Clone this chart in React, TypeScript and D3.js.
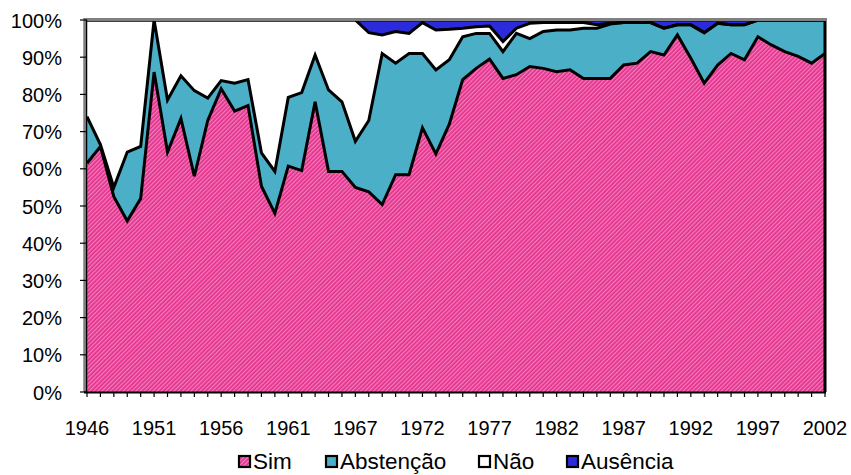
import { useEffect, useRef } from 'react';
import * as d3 from 'd3';

// years with a vote (no 1964 session)
const years = [
  1946, 1947, 1948, 1949, 1950, 1951, 1952, 1953, 1954, 1955, 1956, 1957, 1958, 1959,
  1960, 1961, 1962, 1963, 1965, 1966, 1967, 1968, 1969, 1970, 1971, 1972, 1973, 1974,
  1975, 1976, 1977, 1978, 1979, 1980, 1981, 1982, 1983, 1984, 1985, 1986, 1987, 1988,
  1989, 1990, 1991, 1992, 1993, 1994, 1995, 1996, 1997, 1998, 1999, 2000, 2001, 2002,
];

const sim = [
  61.5, 66, 52.5, 46, 52, 86, 64.5, 73.5, 58, 73, 81.5, 75.5, 77, 55.3,
  48, 60.7, 59.5, 78, 59.3, 59.3, 55, 53.8, 50.4, 58.4, 58.4, 71, 64, 72,
  84, 87, 89.5, 84.3, 85.3, 87.5, 87, 86.1, 86.6, 84.3, 84.3, 84.3, 87.9, 88.4,
  91.5, 90.6, 96, 89.7, 83, 87.9, 91, 89.3, 95.5, 93.3, 91.5, 90.2, 88.4, 91,
];
const abstencao = [
  12.5, 0.5, 2.5, 18.5, 14, 14, 14, 11.5, 23, 6, 2.2, 7.5, 7, 9,
  11.3, 18.5, 21, 12.6, 21.9, 18.7, 12.4, 19.2, 40.6, 30, 32.6, 20, 22.6, 17.3,
  11.5, 9.4, 6.9, 7.2, 11.1, 7.5, 9.9, 11.2, 10.7, 13.5, 13.5, 14.6, 11.4, 10.9,
  7.8, 7.2, 2.7, 9, 13.6, 11.2, 7.7, 9.4, 4.5, 6.7, 8.5, 9.8, 11.6, 9,
];
const nao = [
  26, 33.5, 45, 35.5, 34, 0, 21.5, 15, 19, 21, 16.3, 17, 16, 35.7,
  40.7, 20.8, 19.5, 9.4, 18.8, 22, 32.6, 23.6, 5, 8.5, 5.4, 8.3, 10.7, 8.2,
  2.3, 1.8, 2, 2.7, 1.4, 4.1, 2.4, 2, 2, 1.5, 0.9, 0.2, 0, 0.7,
  0, 0, 0, 0, 0, 0, 0, 0, 0, 0, 0, 0, 0, 0,
];
const ausencia = [
  0, 0, 0, 0, 0, 0, 0, 0, 0, 0, 0, 0, 0, 0,
  0, 0, 0, 0, 0, 0, 0, 3.4, 4, 3.1, 3.6, 0.7, 2.7, 2.5,
  2.2, 1.8, 1.6, 5.8, 2.2, 0.9, 0.7, 0.7, 0.7, 0.7, 1.3, 0.9, 0.7, 0,
  0.7, 2.2, 1.3, 1.3, 3.4, 0.9, 1.3, 1.3, 0, 0, 0, 0, 0, 0,
];

const seriesKeys = ['sim', 'abstencao', 'nao', 'ausencia'];
const seriesLabels = ['Sim', 'Abstenção', 'Não', 'Ausência'];
const yTicks = [0, 0.1, 0.2, 0.3, 0.4, 0.5, 0.6, 0.7, 0.8, 0.9, 1];

const FONT = '"Liberation Sans", Arial, sans-serif';

export default function App() {
  const svgRef = useRef<SVGSVGElement>(null);

  useEffect(() => {
    if (!svgRef.current) return;
    const svg = d3.select(svgRef.current);
    svg.selectAll('*').remove();

    const width = 851;
    const height = 475;
    const left = 87;
    const right = 825;
    const top = 20;
    const bottom = 392;

    const rows = years.map((y, i) => ({
      year: String(y),
      sim: sim[i],
      abstencao: abstencao[i],
      nao: nao[i],
      ausencia: ausencia[i],
    }));

    const stack = d3.stack<(typeof rows)[number]>()
      .keys(seriesKeys)
      .offset(d3.stackOffsetExpand);
    const layers = stack(rows);

    const x = d3.scalePoint<string>().domain(rows.map((d) => d.year)).range([left, right]);
    const y = d3.scaleLinear().domain([0, 1]).range([bottom, top]);

    svg.attr('width', width).attr('height', height).attr('viewBox', `0 0 ${width} ${height}`);

    const defs = svg.append('defs');
    const pat = defs.append('pattern')
      .attr('id', 'pinkHatch')
      .attr('patternUnits', 'userSpaceOnUse')
      .attr('width', 3)
      .attr('height', 3)
      .attr('patternTransform', 'rotate(45)');
    pat.append('rect').attr('width', 3).attr('height', 3).attr('fill', '#e2308a');
    pat.append('rect').attr('width', 1.3).attr('height', 3).attr('fill', '#f57cbc');

    const fills = ['url(#pinkHatch)', '#4aafc7', '#ffffff', '#2b2bdc'];

    const area = d3.area<d3.SeriesPoint<(typeof rows)[number]>>()
      .x((d) => x(d.data.year) ?? 0)
      .y0((d) => y(d[0]))
      .y1((d) => y(d[1]));

    const line = d3.line<d3.SeriesPoint<(typeof rows)[number]>>()
      .x((d) => x(d.data.year) ?? 0)
      .y((d) => y(d[1]));

    const g = svg.append('g');

    layers.forEach((layer, i) => {
      g.append('path')
        .datum(layer)
        .attr('fill', fills[i])
        .attr('stroke', 'none')
        .attr('d', area);
    });

    // series outlines (Excel style thick black borders)
    layers.forEach((layer) => {
      g.append('path')
        .datum(layer)
        .attr('fill', 'none')
        .attr('stroke', '#000')
        .attr('stroke-width', 3)
        .attr('stroke-linejoin', 'miter')
        .attr('d', line);
    });

    // right edge of the areas
    g.append('line')
      .attr('x1', right).attr('x2', right)
      .attr('y1', top).attr('y2', bottom)
      .attr('stroke', '#000')
      .attr('stroke-width', 3);

    // plot area border (top + left, gray)
    g.append('line')
      .attr('x1', left - 3).attr('x2', right + 2)
      .attr('y1', top - 0.5).attr('y2', top - 0.5)
      .attr('stroke', '#808080')
      .attr('stroke-width', 3);
    g.append('line')
      .attr('x1', left - 2.5).attr('x2', left - 2.5)
      .attr('y1', top - 2).attr('y2', bottom)
      .attr('stroke', '#808080')
      .attr('stroke-width', 2.5);

    // y axis
    g.append('line')
      .attr('x1', left - 0.5).attr('x2', left - 0.5)
      .attr('y1', top).attr('y2', bottom)
      .attr('stroke', '#000')
      .attr('stroke-width', 1.5);

    g.selectAll('.ytick')
      .data(yTicks)
      .join('line')
      .attr('class', 'ytick')
      .attr('x1', left - 7).attr('x2', left)
      .attr('y1', (d) => y(d)).attr('y2', (d) => y(d))
      .attr('stroke', '#000')
      .attr('stroke-width', 1.2);

    g.selectAll('.ylabel')
      .data(yTicks)
      .join('text')
      .attr('class', 'ylabel')
      .attr('x', 62)
      .attr('y', (d) => y(d) + 7.5)
      .attr('text-anchor', 'end')
      .attr('font-family', FONT)
      .attr('font-size', 20)
      .attr('fill', '#000')
      .text((d) => `${Math.round(d * 100)}%`);

    // x axis
    g.append('line')
      .attr('x1', left - 3).attr('x2', right + 1)
      .attr('y1', bottom + 0.5).attr('y2', bottom + 0.5)
      .attr('stroke', '#000')
      .attr('stroke-width', 2);

    g.selectAll('.xtick')
      .data(rows)
      .join('line')
      .attr('class', 'xtick')
      .attr('x1', (d) => x(d.year) ?? 0).attr('x2', (d) => x(d.year) ?? 0)
      .attr('y1', bottom).attr('y2', bottom + 5)
      .attr('stroke', '#000')
      .attr('stroke-width', 1.2);

    g.selectAll('.xlabel')
      .data(rows.filter((_d, i) => i % 5 === 0))
      .join('text')
      .attr('class', 'xlabel')
      .attr('x', (d) => x(d.year) ?? 0)
      .attr('y', 435)
      .attr('text-anchor', 'middle')
      .attr('font-family', FONT)
      .attr('font-size', 20)
      .attr('fill', '#000')
      .text((d) => d.year);

    // legend
    const legendX = [238, 325, 478, 566];
    const lg = svg.append('g');
    seriesLabels.forEach((label, i) => {
      lg.append('rect')
        .attr('x', legendX[i] + 1)
        .attr('y', 456)
        .attr('width', 11)
        .attr('height', 11)
        .attr('fill', fills[i])
        .attr('stroke', '#000')
        .attr('stroke-width', 2.2);
      lg.append('text')
        .attr('x', legendX[i] + 15)
        .attr('y', 469)
        .attr('font-family', FONT)
        .attr('font-size', 22.5)
        .attr('fill', '#000')
        .text(label);
    });
  }, []);

  return (
    <svg
      ref={svgRef}
      style={{ position: 'absolute', left: 0, top: 0, background: '#fff' }}
    />
  );
}
